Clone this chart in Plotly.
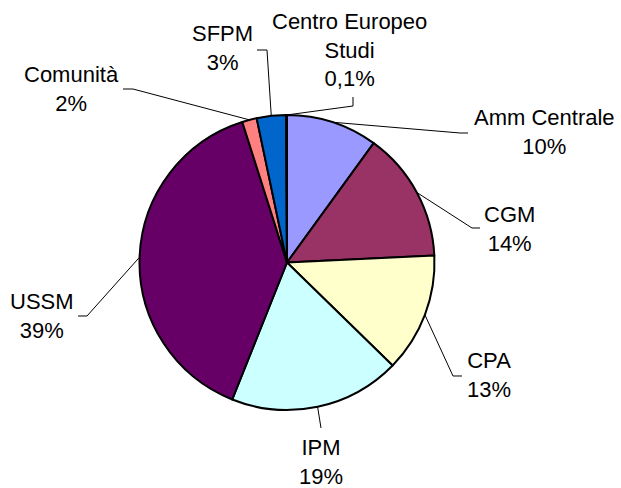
import math
import plotly.graph_objects as go

# ---- data ----
labels = ["Amm Centrale", "CGM", "CPA", "IPM", "USSM", "Comunità", "SFPM", "Centro Europeo Studi"]
values = [10.0, 14.25, 13.05, 18.75, 39.05, 1.6, 3.2, 0.1]
pct_text = ["10%", "14%", "13%", "19%", "39%", "2%", "3%", "0,1%"]
label_lines = ["Amm Centrale", "CGM", "CPA", "IPM", "USSM", "Comunità", "SFPM", "Centro Europeo<br>Studi"]
colors = ["#9999FF", "#993366", "#FFFFCC", "#CCFFFF", "#660066", "#FF8080", "#0066CC", "#CCCCFF"]

W, H = 621, 488
# pie placement (pixels)
PX0, PX1, PY0, PY1 = 139, 435, 115, 410

# label layout (pixel positions): text center, elbow point, end point
label_pos = [
    ((544, 132), (460, 133), (468, 133)),
    ((509, 229), (472, 228), (480, 228)),
    ((489, 375), (453, 376), (462, 376)),
    ((321, 462), (321, 428), None),
    ((42, 316), (87, 316), (78, 316)),
    ((71, 89), (133, 89), (123, 89)),
    ((222, 48), (267, 50), (257, 50)),
    ((350, 50), (353, 106), (353, 97)),
]

def px(x):
    return x / W

def py(y):
    return 1 - y / H

fig = go.Figure(go.Pie(
    labels=labels,
    values=values,
    sort=False,
    direction="clockwise",
    rotation=0,
    textinfo="none",
    hoverinfo="label+percent",
    marker=dict(colors=colors, line=dict(color="black", width=2)),
    domain=dict(x=[px(PX0), px(PX1)], y=[py(PY1), py(PY0)]),
    showlegend=False,
))

cx = (PX0 + PX1) / 2
cy = (PY0 + PY1) / 2
r = min(PX1 - PX0, PY1 - PY0) / 2

total = sum(values)
cum = 0
shapes = []
annotations = []
for i, v in enumerate(values):
    f = (cum + v / 2) / total
    cum += v
    th = 2 * math.pi * f
    ax = cx + r * math.sin(th)
    ay = cy - r * math.cos(th)
    (tx, ty), elbow, end = label_pos[i]
    pts = [(ax, ay), elbow] + ([end] if end else [])
    path = "M " + " L ".join(f"{px(x):.5f},{py(y):.5f}" for x, y in pts)
    shapes.append(dict(type="path", path=path, xref="paper", yref="paper",
                       line=dict(color="black", width=1)))
    annotations.append(dict(
        x=px(tx), y=py(ty), xref="paper", yref="paper",
        text=f"{label_lines[i]}<br>{pct_text[i]}",
        showarrow=False, xanchor="center", yanchor="middle", align="center",
        font=dict(family="Liberation Sans, Arial, sans-serif", size=22, color="black"),
    ))

fig.update_layout(
    width=W, height=H, autosize=False,
    margin=dict(l=0, r=0, t=0, b=0),
    paper_bgcolor="white", plot_bgcolor="white",
    shapes=shapes, annotations=annotations,
)

fig.write_html(
    "out.html",
    config={"displayModeBar": False},
    post_script="document.body.style.margin='0';document.body.style.padding='0';"
                "document.body.style.overflow='hidden';",
)
